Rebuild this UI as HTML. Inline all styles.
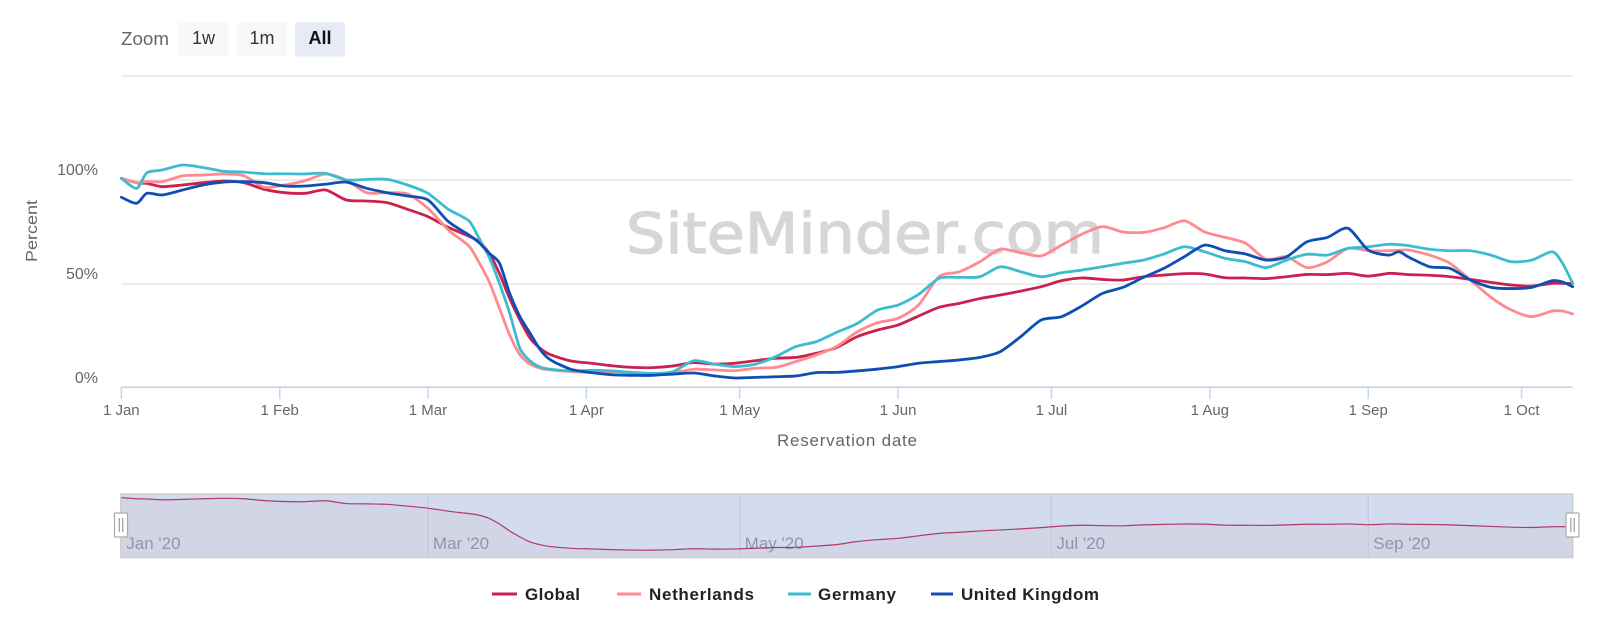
<!DOCTYPE html>
<html lang="en">
<head>
<meta charset="utf-8">
<title>Reservation chart</title>
<style>
html,body{margin:0;padding:0;background:#fff;width:1600px;height:621px;overflow:hidden}
svg{display:block;font-family:"Liberation Sans",sans-serif}
</style>
</head>
<body>
<svg id="chart" xmlns="http://www.w3.org/2000/svg" width="1600" height="621" viewBox="0 0 1600 621">
  <g>
    <text x="121" y="45" font-size="18" fill="#666" textLength="48" lengthAdjust="spacingAndGlyphs">Zoom</text>
    <g>
      <rect x="178" y="22" width="50.5" height="34.5" rx="3" fill="#f7f8f8"/>
      <text x="203.5" y="44" font-size="18" fill="#333" text-anchor="middle">1w</text>
    </g>
    <g>
      <rect x="236.5" y="22" width="50.5" height="34.5" rx="3" fill="#f7f8f8"/>
      <text x="262" y="44" font-size="18" fill="#333" text-anchor="middle">1m</text>
    </g>
    <g>
      <rect x="295" y="22" width="50" height="34.5" rx="3" fill="#e6ebf5"/>
      <text x="320" y="44" font-size="18" font-weight="700" fill="#111" text-anchor="middle">All</text>
    </g>
  </g>
  <g id="grid"></g>
  <text x="626" y="253" font-family="'DejaVu Sans',sans-serif" font-size="56" fill="#d6d6d6" stroke="#d6d6d6" stroke-width="1.2" stroke-linejoin="round" textLength="478" lengthAdjust="spacingAndGlyphs">SiteMinder.com</text>
  <g id="yLabels"></g>
  <text transform="translate(37,231) rotate(-90)" font-size="16" fill="#666" text-anchor="middle" textLength="62" lengthAdjust="spacingAndGlyphs">Percent</text>
  <g id="xAxis"></g>
  <text x="847" y="446" font-size="17" fill="#666" text-anchor="middle" textLength="140">Reservation date</text>
  <g id="series"></g>
  <g id="navigator"></g>
  <g>
    <g>
      <line x1="492" x2="517" y1="594" y2="594" stroke="#c9224f" stroke-width="3"/>
      <text x="525" y="600" font-size="17" font-weight="700" fill="#222" textLength="55">Global</text>
    </g>
    <g>
      <line x1="617" x2="641" y1="594" y2="594" stroke="#ff8a90" stroke-width="3"/>
      <text x="649" y="600" font-size="17" font-weight="700" fill="#222" textLength="105">Netherlands</text>
    </g>
    <g>
      <line x1="788" x2="811" y1="594" y2="594" stroke="#3dbcd0" stroke-width="3"/>
      <text x="818" y="600" font-size="17" font-weight="700" fill="#222" textLength="78">Germany</text>
    </g>
    <g>
      <line x1="931" x2="953" y1="594" y2="594" stroke="#0f4fb4" stroke-width="3"/>
      <text x="961" y="600" font-size="17" font-weight="700" fill="#222" textLength="138">United Kingdom</text>
    </g>
  </g>
</svg>
<script>
var days = [0,3,5,8,12,16,20,24,28,32,36,40,44,48,52,56,60,64,68,70,72,74,76,78,80,82,84,88,92,96,100,104,108,112,116,120,124,128,132,136,140,144,148,152,156,160,164,168,172,176,180,184,188,192,196,200,204,208,212,216,220,224,228,232,236,240,244,248,250,252,256,260,264,268,272,276,280,282,284];
var globalValues = [100.8,98.7,98.4,96.8,97.6,98.7,99.5,98.7,95.5,93.9,93.6,95.2,90.4,89.9,89.1,85.9,82.4,77.2,73,70.4,64.7,55,43,32.7,23.9,19,16,13,11.9,10.7,9.9,9.8,10.6,12.2,11.5,11.9,13.1,14.3,14.7,16.7,19.5,24.7,27.9,30.3,34.6,38.8,40.7,43,44.7,46.6,48.7,51.6,52.9,52.2,51.9,53.5,54.3,55,54.8,53,52.9,52.6,53.5,54.6,54.5,55.1,53.8,55.1,54.9,54.5,54.2,53.5,52.2,50.8,49.5,49,50.3,50.3,50.3];
var netherlandsValues = [100.8,98.7,99.2,99.2,102,102.4,102.9,102,96.5,97.6,99.7,102.9,100,93.9,93.9,93.3,86.4,76,68.3,60.3,51,38.3,25.5,16,11.5,9.5,8.7,7.9,7.5,7.9,7.4,6.7,7.4,9,8.7,8.3,9.5,9.9,12.7,15.9,20,27,31.4,33.5,39.9,53.5,55.9,60.7,66.7,65,63.5,68.7,74,77.6,75,74.8,77,80.4,75,72.4,69.6,61.9,63.1,57.9,60.7,67.1,66,66,66.2,66.3,63.9,59.9,51.9,43.6,37.5,34.3,37,37,35.6];
var germanyValues = [100.8,96,103.5,104.8,107.2,106,104.2,103.8,103,103,102.9,103.2,100,100.3,100.3,97.6,93.6,85.9,80.4,72,62.8,50.3,35.9,19,13,10,9,8.2,8.5,8.2,7.5,7,7.9,13.1,11.5,10.3,11.4,15,19.9,22.3,26.8,31,37.5,39.9,45,52.7,53.2,53.5,58.3,55.9,53.5,55.4,56.7,58.3,60,61.5,64.4,67.9,65.5,62.3,60.7,57.9,61.5,64.3,63.9,67.1,67.9,69.1,68.9,68.4,66.7,66,66,63.9,60.7,61.5,65.5,60,50.3];
var ukValues = [91.7,88.8,93.6,92.8,95.2,97.6,99,99.2,98.7,97.1,97.1,98,99,96,93.9,92.3,90.4,80,73.6,69.9,64.7,60,45.5,34.3,26.3,18.3,13.5,9,7.4,6.4,6.1,6.1,6.7,7.2,5.8,4.8,5.1,5.4,5.8,7.4,7.5,8.2,9.1,10.3,11.9,12.7,13.5,14.7,17.5,24.7,32.7,34.3,39.5,45.5,48.4,53.2,57.5,63.1,68.7,66,64.4,61.5,63.1,70.3,72.4,76.8,66.3,63.9,65.5,62.8,58.3,57.5,51.9,48.4,47.8,48.4,51.6,51,48.7];
var yTicks = [0,50,100,150];
var yTickLabels = ['0%','50%','100%',''];
var xTickDays = [0,31,60,91,121,152,182,213,244,274];
var xTickLabels = ['1 Jan','1 Feb','1 Mar','1 Apr','1 May','1 Jun','1 Jul','1 Aug','1 Sep','1 Oct'];
var navTickDays = [0,60,121,182,244];
var navTickLabels = ["Jan '20","Mar '20","May '20","Jul '20","Sep '20"];

var NS = 'http://www.w3.org/2000/svg';
var lastDay = 284;
function xScale(d){ return 121.3 + d * (1572.7 - 121.3) / lastDay; }
function yScale(p){ return 388 - p * 2.08; }
function navY(p){ return 555.8 - p * 0.578; }
function make(tag, attrs, parent, text){
  var el = document.createElementNS(NS, tag);
  for (var k in attrs) el.setAttribute(k, attrs[k]);
  if (text !== undefined) el.textContent = text;
  parent.appendChild(el);
  return el;
}
function smoothPath(values, fx, fy){
  var pts = values.map(function(v, i){ return [fx(days[i]), fy(v)]; });
  var d = 'M' + pts[0][0].toFixed(2) + ' ' + pts[0][1].toFixed(2);
  var t = 0.13;
  for (var i = 0; i < pts.length - 1; i++){
    var p0 = pts[Math.max(i - 1, 0)], p1 = pts[i], p2 = pts[i + 1], p3 = pts[Math.min(i + 2, pts.length - 1)];
    d += 'C' + (p1[0] + (p2[0] - p0[0]) * t).toFixed(2) + ' ' + (p1[1] + (p2[1] - p0[1]) * t).toFixed(2) + ' ' +
         (p2[0] - (p3[0] - p1[0]) * t).toFixed(2) + ' ' + (p2[1] - (p3[1] - p1[1]) * t).toFixed(2) + ' ' +
         p2[0].toFixed(2) + ' ' + p2[1].toFixed(2);
  }
  return d;
}

var grid = document.getElementById('grid');
var yLabels = document.getElementById('yLabels');
yTicks.forEach(function(tick, i){
  if (tick === 0) return;
  var gl = make('line', {x1: 121.3, x2: 1572.7, y1: yScale(tick), y2: yScale(tick), stroke: '#e6e6e6', 'stroke-width': 1.5}, grid);
  
  
});
yTicks.forEach(function(tick, i){
  if (!yTickLabels[i]) return;
  var tl = make('text', {x: 98, y: yScale(tick) - 5, 'font-size': 16, fill: '#666', 'text-anchor': 'end'}, yLabels, yTickLabels[i]);
  
  
});

var xAxis = document.getElementById('xAxis');
var axisLine = make('line', {x1: 121.3, x2: 1572.7, y1: 387.2, y2: 387.2, stroke: '#ccd6eb', 'stroke-width': 1.8}, xAxis);


xTickDays.forEach(function(d, i){
  var tk = make('line', {x1: xScale(d), x2: xScale(d), y1: 387, y2: 399, stroke: '#ccd6eb', 'stroke-width': 1.5}, xAxis);
  
  
  var lb = make('text', {x: xScale(d), y: 415, 'font-size': 15, fill: '#666', 'text-anchor': 'middle'}, xAxis, xTickLabels[i]);
  
  
});

var seriesGroup = document.getElementById('series');
var seriesList = [
  ['series-global', globalValues, '#c9224f'],
  ['series-netherlands', netherlandsValues, '#ff8a90'],
  ['series-germany', germanyValues, '#3dbcd0'],
  ['series-united-kingdom', ukValues, '#0f4fb4']
];
seriesList.forEach(function(s){
  var path = make('path', {d: smoothPath(s[1], xScale, yScale), fill: 'none', stroke: s[2], 'stroke-width': 2.8, 'stroke-linejoin': 'round', 'stroke-linecap': 'round'}, seriesGroup);
  
  
});

var nav = document.getElementById('navigator');
var navBg = make('rect', {x: 121.3, y: 494.5, width: 1451.4, height: 63, fill: '#d3dcee'}, nav);


var navLineD = smoothPath(globalValues, xScale, navY);
var navArea = make('path', {d: navLineD + 'L1572.7 557.5L121.3 557.5Z', fill: '#d2d5e6'}, nav);


navTickDays.forEach(function(d, i){
  if (d > 0) {
    var ng = make('line', {x1: xScale(d), x2: xScale(d), y1: 495, y2: 557, stroke: '#c3cadb', 'stroke-width': 1.2}, nav);
    
    
  }
  var nl = make('text', {x: xScale(d) + 5, y: 549, 'font-size': 17, fill: '#8f96a8'}, nav, navTickLabels[i]);
  
  
});
var navLine = make('path', {d: navLineD, fill: 'none', stroke: '#b03a68', 'stroke-width': 1.2}, nav);


var navBorder = make('rect', {x: 120.8, y: 494, width: 1452, height: 63.5, fill: 'none', stroke: '#cfcfcf', 'stroke-width': 1.5}, nav);


[121, 1572.5].forEach(function(cx, i){
  var h = make('g', {}, nav);
  
  
  make('rect', {x: cx - 6.5, y: 513, width: 13, height: 24, fill: '#fff', stroke: '#aaa', 'stroke-width': 1.2, rx: 1}, h);
  make('line', {x1: cx - 1.7, x2: cx - 1.7, y1: 518, y2: 532, stroke: '#999', 'stroke-width': 1.2}, h);
  make('line', {x1: cx + 1.7, x2: cx + 1.7, y1: 518, y2: 532, stroke: '#999', 'stroke-width': 1.2}, h);
});
</script>
</body>
</html>
